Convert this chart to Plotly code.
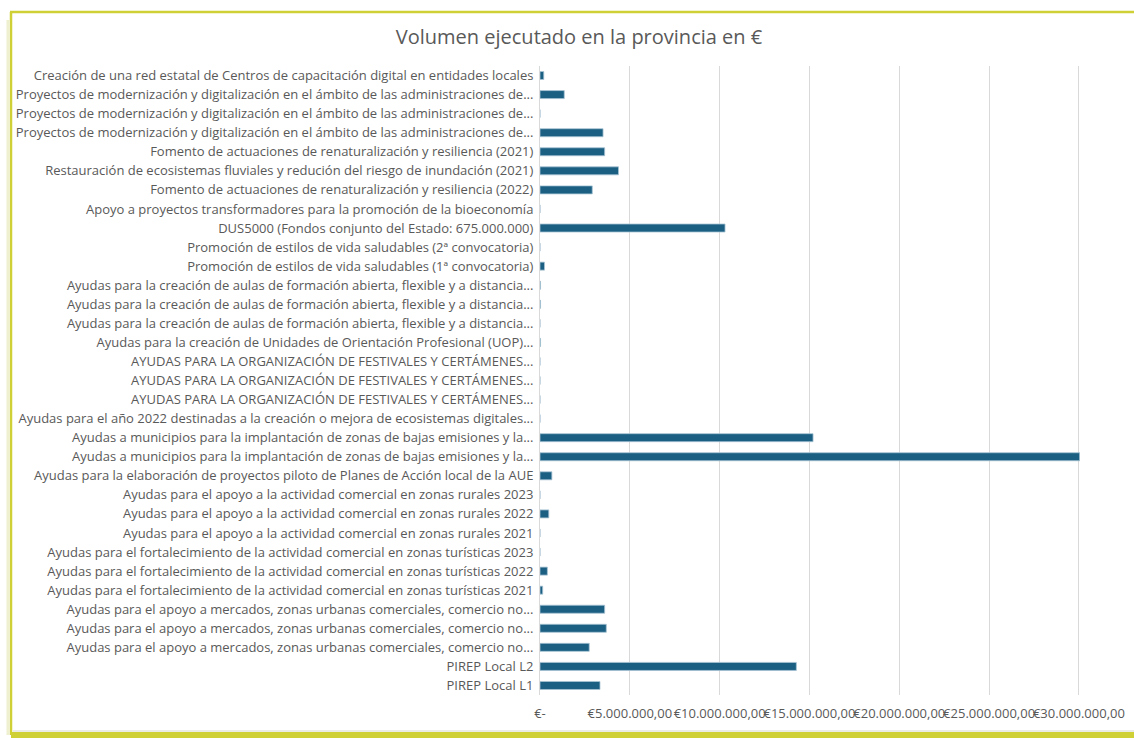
import plotly.graph_objects as go

categories = [
    "Creación de una red estatal de Centros de capacitación digital en entidades locales",
    "Proyectos de modernización y digitalización en el ámbito de las administraciones de...",
    "Proyectos de modernización y digitalización en el ámbito de las administraciones de...",
    "Proyectos de modernización y digitalización en el ámbito de las administraciones de...",
    "Fomento de actuaciones de renaturalización y resiliencia (2021)",
    "Restauración de ecosistemas fluviales y redución del riesgo de inundación (2021)",
    "Fomento de actuaciones de renaturalización y resiliencia (2022)",
    "Apoyo a proyectos transformadores para la promoción de la bioeconomía",
    "DUS5000 (Fondos conjunto del Estado: 675.000.000)",
    "Promoción de estilos de vida saludables (2ª convocatoria)",
    "Promoción de estilos de vida saludables (1ª convocatoria)",
    "Ayudas para la creación de aulas de formación abierta, flexible y a distancia...",
    "Ayudas para la creación de aulas de formación abierta, flexible y a distancia...",
    "Ayudas para la creación de aulas de formación abierta, flexible y a distancia...",
    "Ayudas para la creación de Unidades de Orientación Profesional (UOP)...",
    "AYUDAS PARA LA ORGANIZACIÓN DE FESTIVALES Y CERTÁMENES...",
    "AYUDAS PARA LA ORGANIZACIÓN DE FESTIVALES Y CERTÁMENES...",
    "AYUDAS PARA LA ORGANIZACIÓN DE FESTIVALES Y CERTÁMENES...",
    "Ayudas para el año 2022 destinadas a la creación o mejora de ecosistemas digitales...",
    "Ayudas a municipios para la implantación de zonas de bajas emisiones y la...",
    "Ayudas a municipios para la implantación de zonas de bajas emisiones y la...",
    "Ayudas para la elaboración de proyectos piloto de Planes de Acción local de la AUE",
    "Ayudas para el apoyo a la actividad comercial en zonas rurales 2023",
    "Ayudas para el apoyo a la actividad comercial en zonas rurales 2022",
    "Ayudas para el apoyo a la actividad comercial en zonas rurales 2021",
    "Ayudas para el fortalecimiento de la actividad comercial en zonas turísticas 2023",
    "Ayudas para el fortalecimiento de la actividad comercial en zonas turísticas 2022",
    "Ayudas para el fortalecimiento de la actividad comercial en zonas turísticas 2021",
    "Ayudas para el apoyo a mercados, zonas urbanas comerciales, comercio no...",
    "Ayudas para el apoyo a mercados, zonas urbanas comerciales, comercio no...",
    "Ayudas para el apoyo a mercados, zonas urbanas comerciales, comercio no...",
    "PIREP Local L2",
    "PIREP Local L1",
]

values = [
    210000, 1350000, 0, 3510000, 3600000, 4370000, 2910000, 0, 10300000, 0,
    250000, 30000, 30000, 0, 30000, 0, 0, 0, 0, 15200000,
    30040000, 660000, 0, 490000, 0, 0, 410000, 150000, 3600000, 3690000,
    2740000, 14270000, 3340000,
]

tick_values = [0, 5000000, 10000000, 15000000, 20000000, 25000000, 30000000]
tick_labels = ["€-", "€5.000.000,00", "€10.000.000,00", "€15.000.000,00",
               "€20.000.000,00", "€25.000.000,00", "€30.000.000,00"]

title_text = "Volumen ejecutado en la provincia en €"

W, H = 1134, 738
ML, MR, MT, MB = 540, 54, 66, 43
PW, PH = W - ML - MR, H - MT - MB

def px(x):
    return (x - ML) / PW

def py(y):
    return 1 - (y - MT) / PH

y_idx = list(range(len(categories)))

fig = go.Figure()
fig.add_trace(go.Bar(
    x=values,
    y=y_idx,
    orientation="h",
    marker=dict(color="#1b5f82", line=dict(color="#a8c4d4", width=0.8)),
    width=0.42,
    hoverinfo="x+y",
    showlegend=False,
))

text_color = "#595959"
font_family = "Open Sans, Liberation Sans, Arial, sans-serif"

fig.update_layout(
    width=W, height=H,
    margin=dict(l=ML, r=MR, t=MT, b=MB, autoexpand=False),
    paper_bgcolor="white",
    plot_bgcolor="white",
    font=dict(family=font_family, color=text_color, size=12),
    title=dict(
        text=title_text,
        x=579 / W, xanchor="center",
        y=1 - 37 / H, yanchor="middle",
        font=dict(size=20, color=text_color, family=font_family),
    ),
    xaxis=dict(
        range=[0, 30060000],
        tickvals=tick_values,
        ticktext=tick_labels,
        tickangle=0,
        showgrid=True,
        gridcolor="#d9d9d9",
        gridwidth=1,
        zeroline=False,
        showline=False,
        ticks="",
        ticklabelstandoff=9,
        tickfont=dict(size=13, color=text_color),
        fixedrange=True,
    ),
    yaxis=dict(
        tickvals=y_idx,
        ticktext=categories,
        range=[len(categories) - 0.5, -0.5],
        showgrid=False,
        zeroline=False,
        showline=True,
        linecolor="#d9d9d9",
        linewidth=1,
        ticks="",
        ticklabelstandoff=3,
        tickfont=dict(size=13, color=text_color),
        fixedrange=True,
    ),
    bargap=0.58,
)

frame_color = "#cfd035"
shapes = [
    dict(type="line", xref="paper", yref="paper",
         x0=px(10), x1=px(W + 5), y0=py(12), y1=py(12),
         line=dict(color=frame_color, width=2.5)),
    dict(type="line", xref="paper", yref="paper",
         x0=px(11), x1=px(11), y0=py(12), y1=py(735),
         line=dict(color=frame_color, width=2.5)),
    dict(type="line", xref="paper", yref="paper",
         x0=px(11), x1=px(W + 5), y0=py(735), y1=py(735),
         line=dict(color=frame_color, width=6)),
    dict(type="line", xref="paper", yref="paper",
         x0=px(13), x1=px(W + 5), y0=py(731), y1=py(731),
         line=dict(color="#e4e4dc", width=1.5)),
    dict(type="line", xref="paper", yref="paper",
         x0=px(8), x1=px(8), y0=py(20), y1=py(735),
         line=dict(color="#eef0d0", width=3)),
]
fig.update_layout(shapes=shapes)

fig.write_html(
    "out.html",
    config={"displayModeBar": False},
    post_script="document.body.style.margin='0';document.body.style.overflow='hidden';",
)
